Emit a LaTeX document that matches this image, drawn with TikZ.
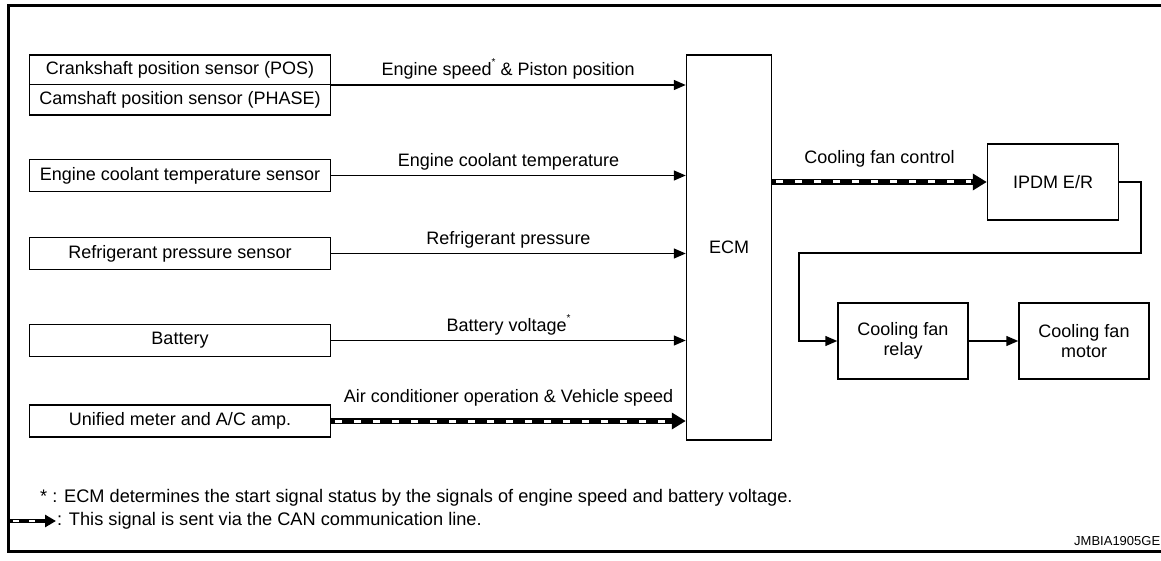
\documentclass[tikz,border=0pt]{standalone}
\usepackage{fontspec}
\setmainfont{Liberation Sans}
\usetikzlibrary{arrows.meta}
\newcommand{\supast}{\raisebox{0.55em}{\fontsize{10}{10}\selectfont *}}
\tikzset{
  box/.style={draw, line width=1.5pt, inner sep=0pt, font=\fontsize{18}{20}\selectfont},
  sig/.style={line width=1.5pt, -{Triangle[length=12pt,width=10pt]}},
  lbl/.style={font=\fontsize{18}{20}\selectfont, inner sep=0pt, above=5pt},
  can/.style={line width=6pt, -{Triangle[length=14pt,width=16pt]},
    postaction={draw=white, line width=3pt, -, dash pattern=on 7pt off 12pt, dash phase=-4pt, shorten >=16pt}},
  note/.style={font=\fontsize{18.2}{20}\selectfont, anchor=west, inner sep=0pt},
}
\begin{document}
\begin{tikzpicture}[x=1pt,y=-1pt]
\useasboundingbox (0,0) rectangle (1161,561);
% frame
\draw[line width=3pt] (1165,6) -- (8,6) -- (8,551) -- (1165,551);
% left boxes
\node[box, minimum width=301pt, minimum height=29.5pt] (crank) at (180,70) {Crankshaft position sensor (POS)};
\node[box, minimum width=301pt, minimum height=30.5pt] (cam) at (180,100) {Camshaft position sensor (PHASE)};
\node[box, minimum width=301pt, minimum height=32pt] (ect) at (180,175.5) {Engine coolant temperature sensor};
\node[box, minimum width=301pt, minimum height=32pt] (ref) at (180,253.5) {Refrigerant pressure sensor};
\node[box, minimum width=301pt, minimum height=32pt] (bat) at (180,340.5) {Battery};
\node[box, minimum width=301pt, minimum height=32pt] (um) at (180,421) {Unified meter and A/C amp.};
% ECM
\node[box, minimum width=85pt, minimum height=385pt] (ecm) at (729,247.5) {ECM};
% right
\node[box, minimum width=131pt, minimum height=76pt] (ipdm) at (1053,182) {IPDM E/R};
\node[box, minimum width=130pt, minimum height=76pt, align=center] (relay) at (903,341) {Cooling fan\\relay};
\node[box, minimum width=130pt, minimum height=76pt, align=center] (motor) at (1084,341) {Cooling fan\\motor};
% signals
\coordinate (c1) at (330.5,85);
\draw[sig] (c1) -- (ecm.west |- c1) node[lbl, midway] {Engine speed\supast{} \& Piston position};
\draw[sig] (ect.east) -- (ecm.west |- ect.east) node[lbl, midway] {Engine coolant temperature};
\draw[sig] (ref.east) -- (ecm.west |- ref.east) node[lbl, midway] {Refrigerant pressure};
\draw[sig] (bat.east) -- (ecm.west |- bat.east) node[lbl, midway] {Battery voltage\supast};
\draw[can] (um.east) -- (ecm.west |- um.east) node[lbl, midway, above=7pt] {Air conditioner operation \& Vehicle speed};
\draw[can] (ecm.east |- ipdm.west) -- (ipdm.west) node[lbl, midway, above=7pt] {Cooling fan control};
\draw[sig] (ipdm.east) -- (1141,182) -- (1141,253) -- (799,253) -- (799,341) -- (relay.west);
\draw[sig] (relay.east) -- (motor.west);
% notes
\node[note] (n1) at (40,498) {* : ECM determines the start signal status by the signals of engine speed and battery voltage.};
\coordinate (la) at (10,521);
\coordinate (lb) at (56,521);
\draw[line width=4.5pt, -{Triangle[length=11pt,width=12pt]},
    postaction={draw=white, line width=2pt, -, dash pattern=on 6pt off 10pt, dash phase=-3pt, shorten >=12pt}] (la) -- (lb);
\node[note] (n2) at (57,521) {: This signal is sent via the CAN communication line.};
\node[font=\fontsize{13}{14}\selectfont, anchor=south west, inner sep=0pt] (id) at (1074,546) {JMBIA1905GE};
\end{tikzpicture}
\end{document}
